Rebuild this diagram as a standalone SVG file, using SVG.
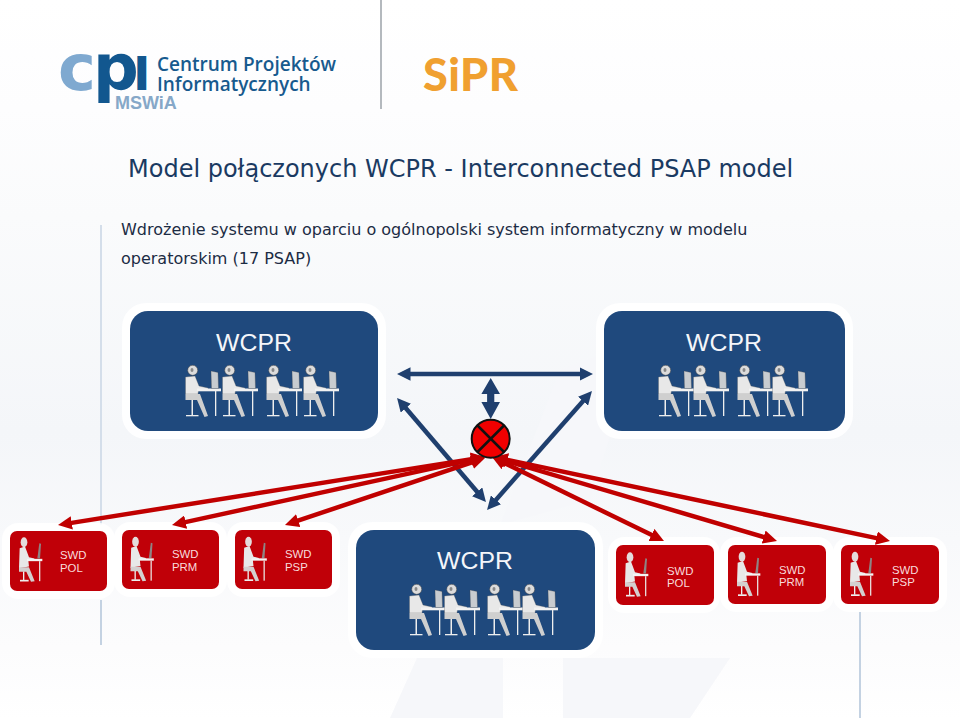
<svg xmlns="http://www.w3.org/2000/svg" width="960" height="720" viewBox="0 0 960 720">
<style>
.wcpr{font-family:"Liberation Sans",Arial,sans-serif;font-size:24.8px;fill:#f4f6fa;text-anchor:middle}
.swd{font-family:"Liberation Sans",Arial,sans-serif;font-size:11.4px;fill:#f8dcdc}
.body{font-family:"DejaVu Sans",Verdana,sans-serif;font-size:16px;fill:#1c2c44}
.title{font-family:"DejaVu Sans",Verdana,sans-serif;font-size:24px;fill:#1a3a62}
.navy{fill:#1f497d}.red{fill:#c00008}.halo{fill:#fff;opacity:.9}
.rule{stroke-width:2;fill:none}
.n{stroke:#1f3f6e;fill:none;stroke-width:4.500}
.r{stroke:#c00000;fill:none;stroke-width:4.500}
</style>
<defs>
<linearGradient id="bg" x1="0" y1="0" x2="0" y2="1">
<stop offset="0" stop-color="#fff"/><stop offset=".15" stop-color="#fdfdfe"/><stop offset=".3" stop-color="#fafbfc"/><stop offset=".6" stop-color="#f4f6f9"/><stop offset=".9" stop-color="#fcfcfd"/><stop offset="1" stop-color="#fff"/>
</linearGradient>
<marker id="an" markerWidth="3.100" markerHeight="3" refX="1" refY="1.500" orient="auto-start-reverse"><path d="M0 0L3 1.500L0 3z" fill="#1f3f6e"/></marker>
<marker id="ar" markerWidth="3.100" markerHeight="3" refX="1.100" refY="1.500" orient="auto-start-reverse"><path d="M0 0L3.100 1.500L0 3z" fill="#c00000"/></marker>
<g id="op">
<circle cx="7.700" cy="7.300" r="5" fill="#dcdcdc" stroke="#444" stroke-width=".5"/>
<ellipse cx="7" cy="7" rx="1.500" ry="2" fill="#888"/>
<path d="M0.500 14L10 13L14 23L23 25V27H13.500L13 31H0.500z" fill="#e8e8e8" stroke="#555" stroke-width=".3"/>
<path d="M0.500 31H15L23 53L19.500 54L12 37H0.500z" fill="#cfcfcf"/>
<rect x="12" y="25.500" width="24" height="2.800" fill="#f2f2f2"/>
<path d="M26 8L33 9.500L33.500 25.500H26.500z" fill="#c8ccd0" stroke="#444" stroke-width=".3"/>
<rect x="30" y="28" width="1.300" height="25" fill="#eee"/>
<rect x="6.500" y="37" width="1.500" height="15" fill="#eee"/>
<rect x="1" y="52" width="12.500" height="1.300" fill="#eee"/>
</g>
<g id="op2" transform="scale(.3333)">
<ellipse cx="15" cy="17" rx="10" ry="15" fill="#e4dcdc"/>
<path d="M2 35L18 30L30 62L46 66V72H28L30 90L0 95z" fill="#e8e8e8"/>
<path d="M0 92H30L47 134L36 136L22 106H0z" fill="#d4d0d0"/>
<rect x="24" y="67" width="46" height="7" fill="#f4f4f4"/>
<path d="M55 66L61 20L66 22L63 66z" fill="#8e8484"/>
<rect x="60" y="74" width="4" height="60" fill="#e8d8d8"/>
<rect x="12" y="105" width="4" height="26" fill="#eee"/>
<rect x="3" y="130" width="26" height="5" fill="#eee"/>
</g>
</defs>
<rect width="960" height="720" fill="url(#bg)"/>
<path d="M417 658L390 718H503V658zM563 658H730L690 718H563zM560 370L640 340L590 500L500 525z" fill="#f6f7fa"/>

<g id="rules">
<line class="rule" x1="381" y1="0" x2="381" y2="109" stroke="#b4b9be"/>
<line class="rule" x1="101" y1="225" x2="101" y2="525" stroke="#d4deea"/>
<line class="rule" x1="101" y1="600" x2="101" y2="645" stroke="#c4d2e2"/>
<line class="rule" x1="860" y1="612" x2="860" y2="718" stroke="#c4d2e2"/>
</g>

<g id="logo-cpi">
<text y="90" font-family="'DejaVu Sans',sans-serif" font-weight="700" font-size="64"><tspan x="58" fill="#7fa9d0">c</tspan><tspan x="93" fill="#12578f">p</tspan><tspan x="133" y="90" fill="#12578f" font-size="47">I</tspan></text>
<text x="115" y="109" font-family="'Liberation Sans',sans-serif" font-weight="700" font-size="18" fill="#86a8c8">MSWiA</text>
<text x="157" y="70.500" font-family="'Open Sans',sans-serif" font-weight="600" font-size="19" fill="#175a8e">Centrum Projektów</text>
<text x="157" y="91" font-family="'Open Sans',sans-serif" font-weight="600" font-size="19" fill="#175a8e">Informatycznych</text>
</g>
<g id="logo-sipr">
<text x="423" y="91" font-family="Lato,sans-serif" font-weight="900" font-size="45" fill="#f0a030" textLength="95">SiPR</text>
</g>

<text class="title" x="128" y="177">Model połączonych WCPR - Interconnected PSAP model</text>
<text class="body" x="121" y="235">Wdrożenie systemu w oparciu o ogólnopolski system informatyczny w modelu</text>
<text class="body" x="121" y="264">operatorskim (17 PSAP)</text>

<g id="wcpr-left">
<rect class="halo" x="122" y="303" width="264" height="136" rx="24"/>
<rect class="navy" x="130" y="311" width="248" height="120" rx="18"/>
<text class="wcpr" x="254" y="351">WCPR</text>
<use href="#op" x="185" y="363"/><use href="#op" x="222" y="363"/><use href="#op" x="266" y="363"/><use href="#op" x="303" y="363"/>
</g>
<g id="wcpr-right">
<rect class="halo" x="596" y="303" width="257" height="136" rx="24"/>
<rect class="navy" x="604" y="311" width="241" height="120" rx="18"/>
<text class="wcpr" x="724" y="351">WCPR</text>
<use href="#op" x="658" y="363"/><use href="#op" x="693" y="363"/><use href="#op" x="737" y="363"/><use href="#op" x="772" y="363"/>
</g>
<g id="wcpr-center">
<rect class="halo" x="348" y="522" width="255" height="136" rx="24"/>
<rect class="navy" x="356" y="530" width="239" height="120" rx="18"/>
<text class="wcpr" x="475" y="569">WCPR</text>
<use href="#op" x="409" y="582"/><use href="#op" x="444" y="582"/><use href="#op" x="487" y="582"/><use href="#op" x="522" y="582"/>
</g>

<g id="swd-pol-left">
<rect class="halo" x="2" y="523" width="113" height="76" rx="16"/>
<rect class="red" x="10" y="531" width="97" height="60" rx="7"/>
<use href="#op2" transform="translate(19 536.500)"/>
<text class="swd" x="60" y="559">SWD</text><text class="swd" x="60" y="572">POL</text>
</g>
<g id="swd-prm-left">
<rect class="halo" x="114" y="522" width="113" height="75" rx="16"/>
<rect class="red" x="122" y="530" width="97" height="59" rx="7"/>
<use href="#op2" transform="translate(130.500 536)"/>
<text class="swd" x="172" y="558">SWD</text><text class="swd" x="172" y="571">PRM</text>
</g>
<g id="swd-psp-left">
<rect class="halo" x="227" y="522" width="113" height="75" rx="16"/>
<rect class="red" x="235" y="530" width="97" height="59" rx="7"/>
<use href="#op2" transform="translate(243.500 536)"/>
<text class="swd" x="285" y="558">SWD</text><text class="swd" x="285" y="571">PSP</text>
</g>
<g id="swd-pol-right">
<rect class="halo" x="608" y="537" width="112" height="76" rx="16"/>
<rect class="red" x="616" y="545" width="98" height="60" rx="7"/>
<use href="#op2" transform="translate(625 551.500)"/>
<text class="swd" x="667" y="574.500">SWD</text><text class="swd" x="667" y="587">POL</text>
</g>
<g id="swd-prm-right">
<rect class="halo" x="720" y="537" width="114" height="75" rx="16"/>
<rect class="red" x="728" y="545" width="98" height="59" rx="7"/>
<use href="#op2" transform="translate(737 551)"/>
<text class="swd" x="779" y="573.500">SWD</text><text class="swd" x="779" y="586">PRM</text>
</g>
<g id="swd-psp-right">
<rect class="halo" x="833" y="537" width="114" height="75" rx="16"/>
<rect class="red" x="841" y="545" width="98" height="59" rx="7"/>
<use href="#op2" transform="translate(850 551)"/>
<text class="swd" x="892" y="573.500">SWD</text><text class="swd" x="892" y="586">PSP</text>
</g>

<g id="connectors">
<line class="n" x1="406" y1="374" x2="584" y2="374" marker-start="url(#an)" marker-end="url(#an)"/>
<line class="n" x1="402.900" y1="404.800" x2="480.100" y2="495.200" marker-start="url(#an)" marker-end="url(#an)"/>
<line class="n" x1="586" y1="397.800" x2="493" y2="503.200" marker-start="url(#an)" marker-end="url(#an)"/>
<path d="M490.700 378L500 394H494.300V402H500L490.700 419L481.400 402H487.100V394H481.400z" fill="#1f3f6e"/>
<line class="r" x1="476.100" y1="458.400" x2="66.900" y2="523.600" marker-start="url(#ar)" marker-end="url(#ar)"/>
<line class="r" x1="476.200" y1="458.900" x2="180.800" y2="523.100" marker-start="url(#ar)" marker-end="url(#ar)"/>
<line class="r" x1="476.500" y1="460.900" x2="293.500" y2="522.100" marker-start="url(#ar)" marker-end="url(#ar)"/>
<line class="r" x1="500.100" y1="461" x2="655.900" y2="537.100" marker-start="url(#ar)" marker-end="url(#ar)"/>
<line class="r" x1="501.600" y1="459.600" x2="768.400" y2="538.400" marker-start="url(#ar)" marker-end="url(#ar)"/>
<line class="r" x1="502.800" y1="458.900" x2="881.200" y2="539.100" marker-start="url(#ar)" marker-end="url(#ar)"/>
</g>
<g id="junction">
<circle cx="490.700" cy="438.700" r="19" fill="#f00000" stroke="#111" stroke-width="2"/>
<line x1="477.500" y1="425.500" x2="504" y2="452" stroke="#111" stroke-width="2.500"/>
<line x1="504" y1="425.500" x2="477.500" y2="452" stroke="#111" stroke-width="2.500"/>
</g>
</svg>
